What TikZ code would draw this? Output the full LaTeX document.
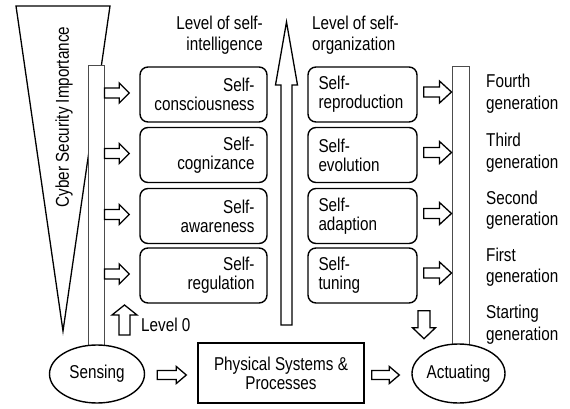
\documentclass[tikz,border=0pt]{standalone}
\usepackage{fontspec}
\setmainfont[FakeStretch=0.82]{Liberation Sans}
\usetikzlibrary{calc,shapes.geometric}

% Hollow block arrow from tail #1 to tip #2:
% #3 half shaft width, #4 half head width, #5 head length (all in pt)
\newcommand\blockarrow[5]{%
  \coordinate (bahead) at ($(#2)!#5pt!(#1)$);
  \draw[hollow] ($(#1)!#3pt!90:(#2)$) -- ($(bahead)!#3pt!90:(#2)$)
    -- ($(bahead)!#4pt!90:(#2)$) -- (#2)
    -- ($(bahead)!#4pt!-90:(#2)$) -- ($(bahead)!#3pt!-90:(#2)$)
    -- ($(#1)!#3pt!-90:(#2)$) -- cycle;}

\begin{document}
\begin{tikzpicture}[x=1pt,y=-1pt,
  every node/.style={font=\fontsize{18.6pt}{19pt}\selectfont, inner sep=0pt},
  hollow/.style={draw=black, fill=white, line width=1.3pt, line join=miter},
  lbox/.style={draw, line width=1.4pt, rounded corners=8pt, fill=white,
    minimum width=127pt, minimum height=55pt, text width=102pt, align=right},
  rbox/.style={draw, line width=1.4pt, rounded corners=8pt, fill=white,
    minimum width=109pt, minimum height=55pt, text width=88pt, align=left},
  bar/.style={draw=black!70, fill=white, line width=1pt},
  oval/.style={ellipse, draw, line width=1.4pt, fill=white},
  lbl/.style={font=\fontsize{18.6pt}{21.5pt}\selectfont}]

\useasboundingbox (0,0) rectangle (570,409);

% importance funnel
\draw[line width=1.3pt, fill=white, line join=miter] (16,6) -- (110,6) -- (63,331) -- cycle;
\node[rotate=90] (csi) at (64,117) {Cyber Security Importance};

% side bars
\node[bar, minimum width=16pt, minimum height=284pt] (lbar) at (96,208) {};
\node[bar, minimum width=17pt, minimum height=283pt] (rbar) at (460.5,208.5) {};

% self-intelligence levels
\node[lbox] (lb1) at (203.5,94.5) {Self-\\consciousness};
\node[lbox] (lb2) at (203.5,155) {Self-\\cognizance};
\node[lbox] (lb3) at (203.5,216) {Self-\\awareness};
\node[lbox] (lb4) at (203.5,275.5) {Self-\\regulation};

% self-organization levels
\node[rbox] (rb1) at (362.5,94.5) {Self-\\reproduction};
\node[rbox] (rb2) at (362.5,155) {Self-\\evolution};
\node[rbox] (rb3) at (362.5,216) {Self-\\adaption};
\node[rbox] (rb4) at (362.5,275.5) {Self-\\tuning};

% column headings
\node[lbl, align=right, anchor=east] (hl) at (263,35) {Level of self-\\intelligence};
\node[lbl, align=left, anchor=west] (hr) at (312,35) {Level of self-\\organization};

% generation labels
\node[lbl, align=left, anchor=west] (g4) at (486,93.5) {Fourth\\generation};
\node[lbl, align=left, anchor=west] (g3) at (486,152.5) {Third\\generation};
\node[lbl, align=left, anchor=west] (g2) at (486,210) {Second\\generation};
\node[lbl, align=left, anchor=west] (g1) at (486,267) {First\\generation};
\node[lbl, align=left, anchor=west] (g0) at (486,324.5) {Starting\\generation};

% bottom row
\node[oval, minimum width=95pt, minimum height=58pt] (sens) at (97,374) {Sensing};
\node[draw, line width=1.4pt, fill=white, minimum width=166pt, minimum height=60pt,
  align=center] (phys) at (281,373) {Physical Systems \&\\Processes};
\node[oval, minimum width=93pt, minimum height=59pt] (act) at (458.5,373.5) {Actuating};

% central rising arrow
\coordinate (mtail) at (286.5,325);
\coordinate (mtip) at (286.5,22);
\blockarrow{mtail}{mtip}{5.5}{11}{63}

% arrows from the left bar into the intelligence levels
\foreach \b in {lb1,lb2,lb3,lb4}{
  \coordinate (\b s) at ($(lbar.east |- \b.west)+(0,-1.5)$);
  \coordinate (\b t) at ($(\b.west)+(-10,-1.5)$);
  \blockarrow{\b s}{\b t}{5}{10}{10}
}

% arrows from the organization levels into the right bar
\foreach \b in {rb1,rb2,rb3,rb4}{
  \coordinate (\b s) at ($(\b.east)+(6,-2.5)$);
  \coordinate (\b t) at ($(rbar.west |- \b.east)+(0,-2.5)$);
  \blockarrow{\b s}{\b t}{5}{11}{12}
}

% level 0 and starting generation
\coordinate (l0s) at (124.5,335);
\coordinate (l0t) at (124.5,305);
\blockarrow{l0s}{l0t}{5.5}{12.5}{10}
\node[anchor=west] (lvl0) at (141,325) {Level 0};

\coordinate (sgs) at ($(rb4.south)+(61.5,7)$);
\coordinate (sgt) at ($(rb4.south)+(61.5,35)$);
\blockarrow{sgs}{sgt}{6}{11.5}{11}

% bottom flow
\coordinate (f1s) at ($(sens.east)+(12,1)$);
\coordinate (f1t) at ($(phys.west)+(-11,2)$);
\blockarrow{f1s}{f1t}{4.5}{8.5}{10}
\coordinate (f2s) at ($(phys.east)+(7,2)$);
\coordinate (f2t) at ($(act.west)+(-12,1.5)$);
\blockarrow{f2s}{f2t}{4.5}{8.5}{10}

\end{tikzpicture}
\end{document}
